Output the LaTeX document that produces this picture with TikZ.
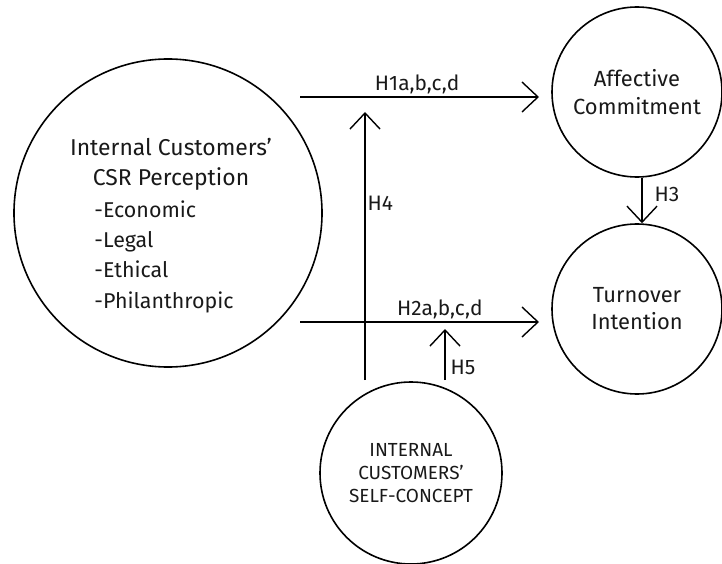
\documentclass[tikz,border=0pt]{standalone}
\usepackage{fontspec}
\setmainfont{Fira Sans}
\usetikzlibrary{arrows.meta}

\begin{document}
\begin{tikzpicture}[x=1bp, y=-1bp,
      every node/.style = {text=black!90},
      factor/.style = {draw=black, line width=1.6bp, circle, inner sep=0pt, align=center},
      hyp/.style = {-{Straight Barb[length=16bp, width=30bp]}, line width=1.4bp},
      hlabel/.style = {font=\fontsize{21}{25}\selectfont, inner sep=2bp}]
      \useasboundingbox (0,0) rectangle (722,564);
      % factors
      \node (csr) [factor, minimum size=308bp] at (168,213) {};
      \node (csrtext) [align=center, font=\fontsize{23}{30}\selectfont] at (171,228)
            {Internal Customers'\\CSR Perception\\[4bp]
             \fontsize{21.5}{30.5}\selectfont
             \begin{tabular}{@{}l@{}}-Economic\\-Legal\\-Ethical\\-Philanthropic\end{tabular}\kern14bp};
      \node (ac) [factor, minimum size=170bp, font=\fontsize{22}{28}\selectfont] at (637,92)
            {Affective\\Commitment};
      \node (ti) [factor, minimum size=170bp, font=\fontsize{22}{27}\selectfont] at (637,309)
            {Turnover\\Intention};
      \node (sc) [factor, minimum size=182bp, font=\fontsize{19}{23}\selectfont] at (411,473)
            {INTERNAL\\CUSTOMERS'\\SELF-CONCEPT};
      % free ends
      \coordinate (h1s) at (300,97);
      \coordinate (h1e) at (539,97);
      \coordinate (h2s) at (300,322);
      \coordinate (h2e) at (539,322);
      \coordinate (h4s) at (365,380);
      \coordinate (h4e) at (365,112);
      \coordinate (h5s) at (445,380);
      \coordinate (h5e) at (445,329);
      % hypotheses
      \draw[hyp] (h1s) -- node[hlabel, above, pos=0.49] {H1a,b,c,d} (h1e);
      \draw[hyp] (h2s) -- node[hlabel, above, pos=0.585] {H2a,b,c,d} (h2e);
      \draw[hyp] (ac.south -| 642,0) -- node[hlabel, right, pos=0.36, xshift=10bp] {H3} (ti.north -| 642,0);
      \draw[hyp] (h4s) -- node[hlabel, right, pos=0.66] {H4} (h4e);
      \draw[hyp] (h5s) -- node[hlabel, right, pos=0.24, xshift=3bp] {H5} (h5e);
\end{tikzpicture}
\end{document}
